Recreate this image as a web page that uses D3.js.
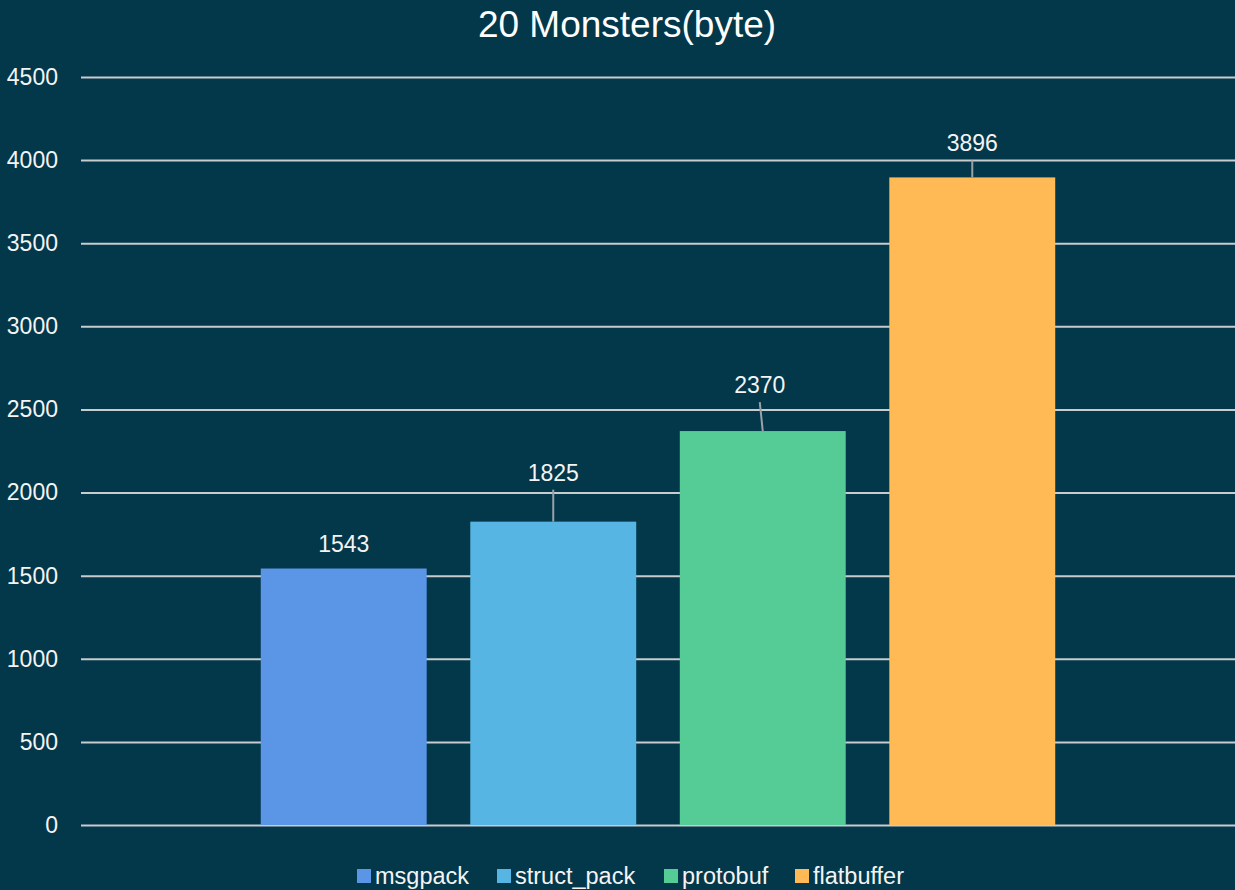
<!DOCTYPE html>
<html><head><meta charset="utf-8">
<script src="https://cdn.jsdelivr.net/npm/d3@7"></script>
<style>html,body{margin:0;padding:0;background:#03374a;}svg{display:block;}</style>
</head><body>
<script>
const series = ["msgpack", "struct_pack", "protobuf", "flatbuffer"];
const values = [1543, 1825, 2370, 3896];
const colors = ["#5b95e6", "#56b5e3", "#55cb96", "#ffb955"];
const yTicks = [0, 500, 1000, 1500, 2000, 2500, 3000, 3500, 4000, 4500];
const title = "20 Monsters(byte)";

(function () {
const W = 1235, H = 890;
const font = "Liberation Sans, Arial, sans-serif";
const svg = d3.select("body").append("svg").attr("width", W).attr("height", H);
svg.append("rect").attr("width", W).attr("height", H).attr("fill", "#03374a");

const mLeft = 81, mRight = 1235, mTop = 77, mBottom = 825;
const y = d3.scaleLinear().domain([0, 4500]).range([mBottom, mTop]);
const x = d3.scaleBand().domain(series).range([mLeft, mRight]).paddingInner(0.208).paddingOuter(0.858);

svg.append("text").attr("x", 627).attr("y", 37).attr("text-anchor", "middle")
  .attr("font-family", font).attr("font-size", 37).attr("fill", "#ffffff").text(title);

const yAxis = d3.axisLeft(y).tickValues(yTicks).tickSize(-(mRight - mLeft)).tickFormat(d3.format("d")).tickPadding(23);
const g = svg.append("g").attr("transform", `translate(${mLeft},0)`).call(yAxis);
g.select(".domain").remove();
g.selectAll(".tick line").attr("stroke", "#c9cccf").attr("stroke-width", 2);
g.selectAll(".tick text").attr("font-family", font).attr("font-size", 23).attr("fill", "#f4f4f4");

svg.selectAll(".bar").data(series).enter().append("rect")
  .attr("x", d => x(d)).attr("width", x.bandwidth())
  .attr("y", (d, i) => y(values[i])).attr("height", (d, i) => y(0) - y(values[i]))
  .attr("fill", (d, i) => colors[i]);

const labelOffset = [24, 48, 45, 33];
series.forEach((s, i) => {
  const cx = x(s) + x.bandwidth() / 2;
  const by = y(values[i]);
  const ly = by - labelOffset[i];
  if (labelOffset[i] > 30) {
    svg.append("line").attr("x1", cx - (i === 2 ? 3 : 0)).attr("x2", cx)
      .attr("y1", ly + 16).attr("y2", by)
      .attr("stroke", "#9aa2a8").attr("stroke-width", 2);
  }
  svg.append("text").attr("x", cx - (i === 2 ? 3 : 0)).attr("y", ly + 7).attr("text-anchor", "middle")
    .attr("font-family", font).attr("font-size", 23).attr("fill", "#f4f4f4").text(values[i]);
});

const legendX = [357, 497, 664, 795];
series.forEach((s, i) => {
  svg.append("rect").attr("x", legendX[i]).attr("y", 869).attr("width", 14).attr("height", 14).attr("fill", colors[i]);
  svg.append("text").attr("x", legendX[i] + 18).attr("y", 884)
    .attr("font-family", font).attr("font-size", 23.5).attr("fill", "#f4f4f4").text(s);
});
})();
</script>
</body></html>
